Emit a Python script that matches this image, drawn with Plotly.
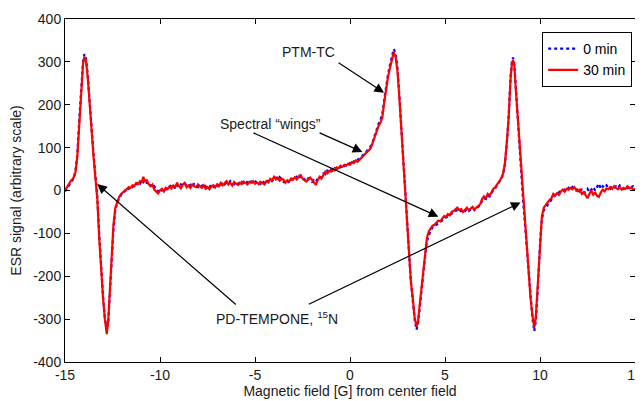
import plotly.graph_objects as go

field = [-15.0, -14.85, -14.7, -14.55, -14.45, -14.35, -14.25, -14.15, -14.05, -13.98, -13.9, -13.8, -13.7, -13.6, -13.5, -13.4, -13.3, -13.2, -13.1, -13.0, -12.9, -12.8, -12.72, -12.64, -12.55, -12.45, -12.35, -12.25, -12.15, -12.05, -11.95, -11.85, -11.75, -11.65, -11.55, -11.45, -11.35, -11.25, -11.15, -11.05, -10.95, -10.88, -10.8, -10.7, -10.6, -10.5, -10.4, -10.3, -10.2, -10.1, -10.0, -9.9, -9.8, -9.7, -9.6, -9.5, -9.4, -9.3, -9.2, -9.1, -9.0, -8.9, -8.8, -8.7, -8.6, -8.5, -8.4, -8.3, -8.2, -8.1, -8.0, -7.9, -7.8, -7.7, -7.6, -7.5, -7.4, -7.3, -7.2, -7.1, -7.0, -6.9, -6.8, -6.7, -6.6, -6.5, -6.4, -6.3, -6.2, -6.1, -6.0, -5.9, -5.8, -5.7, -5.6, -5.5, -5.4, -5.3, -5.2, -5.1, -5.0, -4.9, -4.8, -4.7, -4.6, -4.5, -4.4, -4.3, -4.2, -4.1, -4.0, -3.9, -3.8, -3.7, -3.6, -3.5, -3.4, -3.3, -3.2, -3.1, -3.0, -2.9, -2.8, -2.7, -2.6, -2.5, -2.4, -2.3, -2.2, -2.1, -2.0, -1.9, -1.8, -1.7, -1.6, -1.5, -1.4, -1.3, -1.2, -1.1, -1.0, -0.9, -0.8, -0.7, -0.6, -0.5, -0.4, -0.3, -0.2, -0.1, 0.0, 0.1, 0.2, 0.3, 0.4, 0.5, 0.6, 0.7, 0.8, 0.9, 1.0, 1.1, 1.2, 1.3, 1.4, 1.5, 1.6, 1.7, 1.8, 1.9, 2.0, 2.1, 2.2, 2.3, 2.4, 2.5, 2.6, 2.7, 2.8, 2.9, 3.0, 3.1, 3.2, 3.3, 3.4, 3.5, 3.58, 3.66, 3.75, 3.85, 3.95, 4.05, 4.15, 4.25, 4.35, 4.45, 4.55, 4.65, 4.75, 4.85, 4.95, 5.05, 5.15, 5.25, 5.35, 5.45, 5.55, 5.65, 5.75, 5.85, 5.95, 6.05, 6.15, 6.25, 6.35, 6.45, 6.55, 6.65, 6.75, 6.85, 6.95, 7.05, 7.15, 7.25, 7.35, 7.45, 7.55, 7.65, 7.75, 7.85, 7.95, 8.05, 8.15, 8.25, 8.35, 8.45, 8.52, 8.58, 8.65, 8.72, 8.8, 8.9, 9.0, 9.1, 9.2, 9.3, 9.4, 9.5, 9.6, 9.7, 9.78, 9.86, 9.94, 10.02, 10.1, 10.2, 10.3, 10.4, 10.5, 10.6, 10.7, 10.8, 10.9, 11.0, 11.1, 11.2, 11.3, 11.4, 11.5, 11.6, 11.7, 11.8, 11.9, 12.0, 12.1, 12.2, 12.3, 12.4, 12.5, 12.6, 12.7, 12.8, 12.9, 13.0, 13.1, 13.2, 13.3, 13.4, 13.5, 13.6, 13.7, 13.8, 13.9, 14.0, 14.1, 14.2, 14.3, 14.4, 14.5, 14.6, 14.7, 14.8, 14.9, 15.0]

signal_0min = [-2, 8, 18, 28, 45, 85, 165, 245, 300, 318, 310, 268, 205, 132, 85, 35, -15, -100, -178, -245, -298, -325, -305, -250, -170, -90, -45, -28, -18, -10, -4, -2, 6, 4, 10, 8, 14, 12, 20, 16, 24, 20, 26, 18, 20, 12, 6, 10, 2, -2, 4, 0, 5, 2, 8, 6, 14, 10, 4, 12, 8, 14, 10, 16, 12, 8, 13, 9, 15, 12, 8, 14, 10, 16, 9, 12, 8, 14, 9, 15, 11, 17, 13, 19, 14, 18, 16, 22, 18, 15, 21, 18, 14, 20, 17, 22, 19, 16, 21, 18, 23, 17, 21, 16, 22, 18, 24, 21, 26, 22, 28, 30, 25, 31, 24, 20, 26, 22, 18, 24, 29, 26, 32, 28, 34, 30, 27, 22, 28, 24, 20, 24, 20, 28, 26, 34, 40, 38, 46, 42, 49, 46, 52, 50, 56, 54, 59, 57, 62, 60, 64, 62, 68, 66, 72, 74, 78, 84, 88, 93, 98, 104, 114, 128, 145, 155, 165, 178, 212, 245, 270, 292, 315, 330, 320, 285, 220, 148, 72, 2, -82, -150, -212, -255, -300, -325, -310, -278, -236, -190, -155, -118, -102, -92, -86, -84, -80, -77, -74, -70, -66, -64, -60, -56, -54, -52, -48, -46, -50, -47, -52, -48, -44, -48, -45, -40, -46, -42, -38, -34, -24, -18, -20, -12, -14, -5, 2, 6, 12, 18, 26, 36, 60, 108, 172, 265, 300, 310, 295, 245, 195, 125, 52, -18, -75, -142, -200, -256, -298, -328, -305, -248, -172, -110, -68, -46, -40, -34, -28, -20, -14, -10, -8, -4, 0, -2, 2, 0, 6, 2, 8, 4, 0, 4, -2, 2, -6, -2, 4, -4, 2, 8, 0, 10, 16, 4, 10, 6, 12, 6, 4, 9, 5, 10, 6, 12, 8, 4, 9, 6, 12, 8, 10, 6]

signal_30min = [0, 12, 22, 30, 42, 80, 160, 240, 295, 312, 305, 262, 200, 125, 80, 30, -20, -110, -185, -250, -300, -335, -300, -240, -160, -80, -40, -25, -15, -8, -5, 0, 3, 8, 6, 12, 10, 18, 15, 22, 20, 32, 22, 24, 15, 10, 14, 2, -3, -7, 0, 4, -2, 6, 3, 10, 5, 12, 8, 18, 10, 5, 14, 18, 8, 12, 6, 14, 10, 8, 14, 11, 6, 12, 4, 8, 3, 10, 12, 7, 14, 10, 18, 12, 16, 22, 14, 18, 12, 20, 16, 13, 18, 15, 21, 17, 14, 20, 18, 22, 16, 19, 15, 20, 17, 14, 22, 19, 27, 24, 32, 26, 30, 23, 28, 25, 18, 24, 21, 28, 25, 31, 26, 33, 36, 28, 24, 21, 26, 30, 25, 18, 13, 24, 32, 28, 36, 44, 40, 46, 44, 50, 47, 54, 52, 58, 55, 60, 58, 62, 60, 66, 64, 70, 67, 72, 76, 80, 86, 90, 94, 100, 112, 125, 140, 150, 158, 170, 205, 240, 265, 285, 305, 322, 312, 278, 215, 145, 70, 0, -85, -150, -210, -250, -295, -318, -305, -270, -230, -185, -150, -110, -95, -88, -82, -80, -75, -70, -72, -65, -60, -62, -55, -58, -50, -48, -44, -40, -46, -43, -50, -44, -40, -46, -42, -38, -44, -40, -36, -32, -20, -14, -18, -8, -12, -2, 4, 8, 15, 20, 28, 38, 62, 110, 170, 260, 295, 305, 290, 240, 190, 120, 50, -20, -75, -140, -195, -250, -290, -320, -295, -235, -160, -100, -60, -40, -35, -28, -22, -18, -8, -12, -6, -10, -2, 2, -3, 4, 2, 6, 3, 8, 2, -2, 2, -8, -4, -12, -18, -8, 0, -10, -5, -12, -15, -5, 2, -2, 5, 3, 8, 4, 10, 6, 3, 8, 2, 6, 4, 10, 5, 7, 3, 4]

series_names = ["0 min", "30 min"]
x_ticks = [-15, -10, -5, 0, 5, 10, 15]
x_ticklabels = ["-15", "-10", "-5", "0", "5", "10", "15"]
y_ticks = [-400, -300, -200, -100, 0, 100, 200, 300, 400]
y_ticklabels = ["-400", "-300", "-200", "-100", "0", "100", "200", "300", "400"]

FONT = "Liberation Sans, Arial, Helvetica, sans-serif"
TXT = "#1a1a1a"
FS = 14

fig = go.Figure()
fig.add_trace(go.Scatter(x=field, y=signal_0min, mode="lines", name=series_names[0],
                         line=dict(color="#0000FF", width=2.2, dash="dot")))
fig.add_trace(go.Scatter(x=field, y=signal_30min, mode="lines", name=series_names[1],
                         line=dict(color="#FF0000", width=2.2)))

arrows = [
    # (head x, head y, tail x, tail y)
    (1.79, 228, -0.68, 300),
    (0.65, 90, -1.68, 136),
    (4.65, -61, -5.16, 136),
    (-13.3, 15, -5.93, -269),
    (8.98, -28, -2.25, -267),
]
for hx, hy, tx, ty in arrows:
    fig.add_annotation(x=hx, y=hy, ax=tx, ay=ty, xref="x", yref="y", axref="x", ayref="y",
                       text="", showarrow=True, arrowhead=2, arrowsize=1.6, arrowwidth=1.2,
                       arrowcolor="black")

labels = [
    (-2.2, 322, "PTM-TC"),
    (-4.2, 155, "Spectral \u201cwings\u201d"),
    (-3.82, -297, "PD-TEMPONE, <sup>15</sup>N"),
]
for lx, ly, t in labels:
    fig.add_annotation(x=lx, y=ly, xref="x", yref="y", text=t, showarrow=False,
                       font=dict(family=FONT, size=FS, color=TXT))

axis_common = dict(showline=True, linecolor="black", linewidth=1, mirror="ticks",
                   ticks="inside", ticklen=5, tickcolor="black", showgrid=False,
                   zeroline=False, automargin=False, ticklabeloverflow="allow",
                   tickfont=dict(family=FONT, size=FS, color=TXT))

# the page body adds an 8 px offset, so the figure is 8 px smaller and shifted margins
fig.update_layout(
    width=635, height=393,
    margin=dict(l=57, r=8, t=11, b=39),
    plot_bgcolor="white", paper_bgcolor="white",
    font=dict(family=FONT, size=FS, color=TXT),
    xaxis=dict(range=[-15, 15], tickvals=x_ticks, ticktext=x_ticklabels, **axis_common,
               title=dict(text="Magnetic field [G] from center field", standoff=4,
                          font=dict(family=FONT, size=FS, color=TXT))),
    yaxis=dict(range=[-400, 400], tickvals=y_ticks, ticktext=y_ticklabels, **axis_common,
               title=dict(text="ESR signal (arbitrary scale)", standoff=8,
                          font=dict(family=FONT, size=FS, color=TXT))),
    legend=dict(x=0.995, y=0.962, xanchor="right", yanchor="top",
                bordercolor="black", borderwidth=1, bgcolor="white",
                font=dict(family=FONT, size=FS, color="black"),
                tracegroupgap=0, itemwidth=30, entrywidth=62, entrywidthmode="pixels"),
    showlegend=True,
)

fig.write_html("out.html")
